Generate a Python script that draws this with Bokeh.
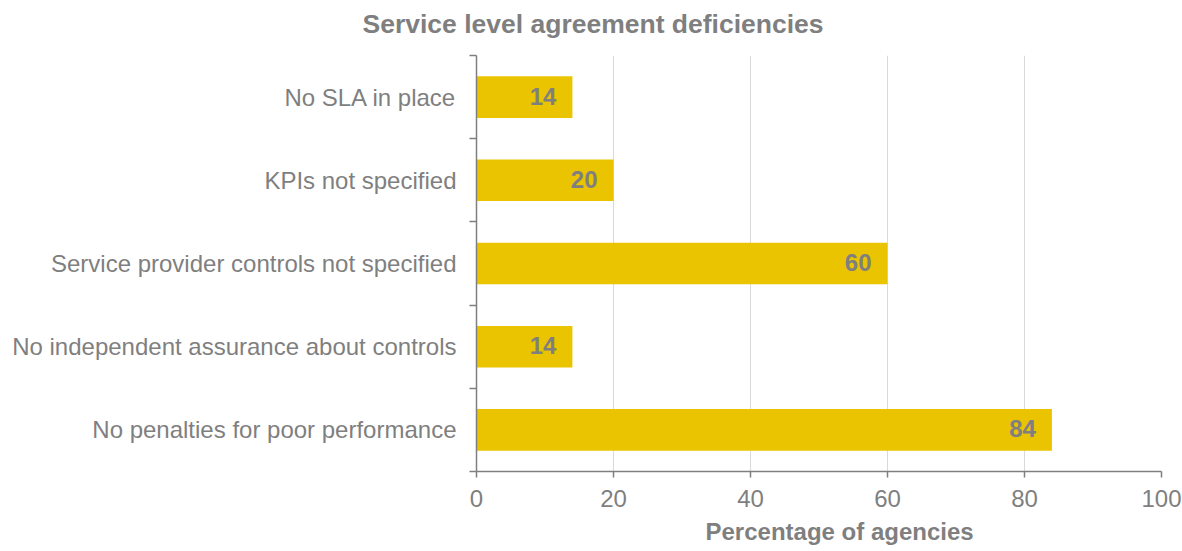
from bokeh.plotting import figure
from bokeh.models import Range1d, FixedTicker, ColumnDataSource, LabelSet, Title
from bokeh.core.properties import value
from bokeh.embed import file_html
from bokeh.resources import INLINE

# ---- data ----
categories = [
    "No SLA in place",
    "KPIs not specified",
    "Service provider controls not specified",
    "No independent assurance about controls",
    "No penalties for poor performance",
]
values = [14, 20, 60, 14, 84]
x_ticks = [0, 20, 40, 60, 80, 100]
title_text = "Service level agreement deficiencies"
x_title = "Percentage of agencies"

# ---- styles ----
FONT = "Liberation Sans"
GREY = "#7F7F7F"
BAR = "#EAC400"

positions = list(range(1, len(categories) + 1))
boundaries = [pos - 0.5 for pos in positions] + [len(categories) + 0.5]

src = ColumnDataSource(dict(y=positions, v=values, label=[str(v) for v in values]))

p = figure(width=1182, height=551, output_backend="svg", toolbar_location=None,
           x_range=Range1d(0, 100), y_range=Range1d(len(categories) + 0.5, 0.5),
           min_border_left=476, min_border_right=21, min_border_top=55,
           min_border_bottom=80)
p.outline_line_color = None
p.background_fill_color = "white"
p.border_fill_color = "white"

p.hbar(y="y", left=0, right="v", height=0.5, source=src,
       fill_color=BAR, line_color=None)

labels = LabelSet(x="v", y="y", text="label", source=src, x_offset=-16, y_offset=1,
                  text_align="right", text_baseline="middle",
                  text_font=value(FONT), text_font_size=value("24px"),
                  text_font_style="bold", text_color=GREY)
p.add_layout(labels)

# x axis
p.xaxis.ticker = FixedTicker(ticks=x_ticks)
p.xaxis.axis_line_color = GREY
p.xaxis.axis_line_width = 1.5
p.xaxis.major_tick_line_color = GREY
p.xaxis.major_tick_line_width = 1.5
p.xaxis.major_tick_out = 6
p.xaxis.major_tick_in = 0
p.xaxis.minor_tick_line_color = None
p.xaxis.major_label_text_font = FONT
p.xaxis.major_label_text_font_size = "24px"
p.xaxis.major_label_text_color = GREY
p.xaxis.major_label_standoff = 12

# y axis
p.yaxis.ticker = FixedTicker(ticks=positions, minor_ticks=boundaries)
p.yaxis.major_label_overrides = {pos: cat for pos, cat in zip(positions, categories)}
p.yaxis.axis_line_color = GREY
p.yaxis.axis_line_width = 1.5
p.yaxis.major_tick_line_color = None
p.yaxis.major_tick_out = 0
p.yaxis.major_tick_in = 0
p.yaxis.minor_tick_line_color = GREY
p.yaxis.minor_tick_line_width = 1.5
p.yaxis.minor_tick_out = 7
p.yaxis.minor_tick_in = 0
p.yaxis.major_label_text_font = FONT
p.yaxis.major_label_text_font_size = "24px"
p.yaxis.major_label_text_color = GREY
p.yaxis.major_label_standoff = 13

# grid
p.xgrid.ticker = FixedTicker(ticks=x_ticks)
p.xgrid.grid_line_color = "#D9D9D9"
p.xgrid.grid_line_width = 1
p.ygrid.grid_line_color = None

# spacer between frame and chart title, then the title itself
p.add_layout(Title(text=" ", text_font_size="1px", standoff=9), "above")
p.add_layout(Title(text=title_text, align="left", offset=-114,
                   text_font=FONT, text_font_size="26.5px", text_font_style="bold",
                   text_color=GREY), "above")
p.add_layout(Title(text=x_title, align="left", offset=229, standoff=12,
                   text_font=FONT, text_font_size="24px", text_font_style="bold",
                   text_color=GREY), "below")

open("out.html", "w").write(file_html(p, INLINE))
